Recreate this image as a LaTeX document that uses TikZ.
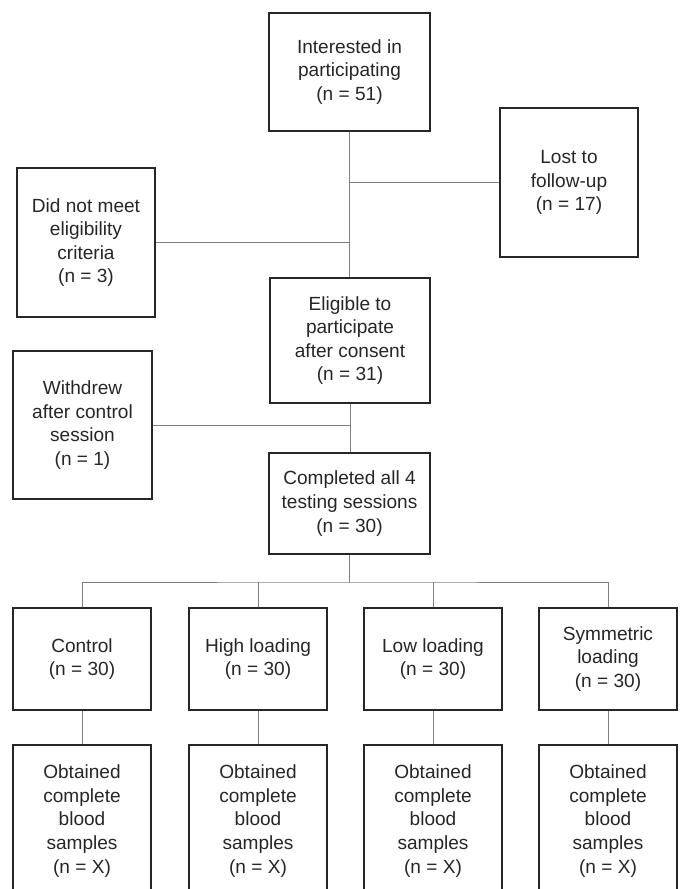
\documentclass[tikz,border=0pt]{standalone}
\usepackage{fontspec}
\setmainfont{Liberation Sans}
\begin{document}
\begin{tikzpicture}[x=0.75pt, y=-0.75pt,
    caja/.style={draw=black!85, line width=1.1pt, text=black!85, align=center,
        inner sep=0pt, font=\fontsize{14.3}{17.7}\selectfont},
    linea/.style={draw=black!50, line width=0.6pt}]
    \useasboundingbox (0,0) rectangle (681,889);
    \clip (0,0) rectangle (681,889);

    % Cajas centrales
    \node[caja, minimum width=120.75pt, minimum height=88.5pt] (int) at (349.5,72)
        {Interested in\\participating\\(n = 51)};
    \node[caja, minimum width=120pt, minimum height=93.75pt] (elig) at (350,340.5)
        {Eligible to\\participate\\after consent\\(n = 31)};
    \node[caja, minimum width=120.75pt, minimum height=75.75pt] (comp) at (349.5,503.5)
        {Completed all 4\\testing sessions\\(n = 30)};

    % Cajas laterales
    \node[caja, minimum width=103.5pt, minimum height=111.75pt] (lost) at (569,182.5)
        {Lost to\\follow-up\\(n = 17)};
    \node[caja, minimum width=103.5pt, minimum height=111.75pt] (dnm) at (86,242.5)
        {Did not meet\\eligibility\\criteria\\(n = 3)};
    \node[caja, minimum width=104.25pt, minimum height=111pt] (wd) at (82.5,425)
        {Withdrew\\after control\\session\\(n = 1)};

    % Grupos y muestras
    \foreach \i/\x/\t in {1/82/{Control\\(n = 30)}, 2/258/{High loading\\(n = 30)},
                          3/433/{Low loading\\(n = 30)}, 4/608/{Symmetric\\loading\\(n = 30)}} {
        \node[caja, minimum width=103.5pt, minimum height=76.5pt] (g\i) at (\x,659) {\t};
        \node[caja, minimum width=103.5pt, minimum height=114pt] (s\i) at (\x,821)
            {Obtained\\complete\\blood\\samples\\(n = X)};
        \draw[linea] (g\i.south) -- (s\i.north);
    }

    % Conectores
    \draw[linea] (int.south) -- (int.south |- elig.north);
    \draw[linea] (lost.west) -- (lost.west -| int.south);
    \draw[linea] (dnm.east) -- (dnm.east -| int.south);
    \draw[linea] (elig.south) -- (elig.south |- comp.north);
    \draw[linea] (wd.east) -- (wd.east -| elig.south);

    % Reparto a los grupos
    \coordinate (bar) at (349.5,582);
    \draw[linea] (comp.south) -- (bar);
    \draw[linea] (g1.north) |- (bar) -| (g4.north);
    \draw[linea] (g2.north) -- (g2.north |- bar);
    \draw[linea] (g3.north) -- (g3.north |- bar);
\end{tikzpicture}
\end{document}
